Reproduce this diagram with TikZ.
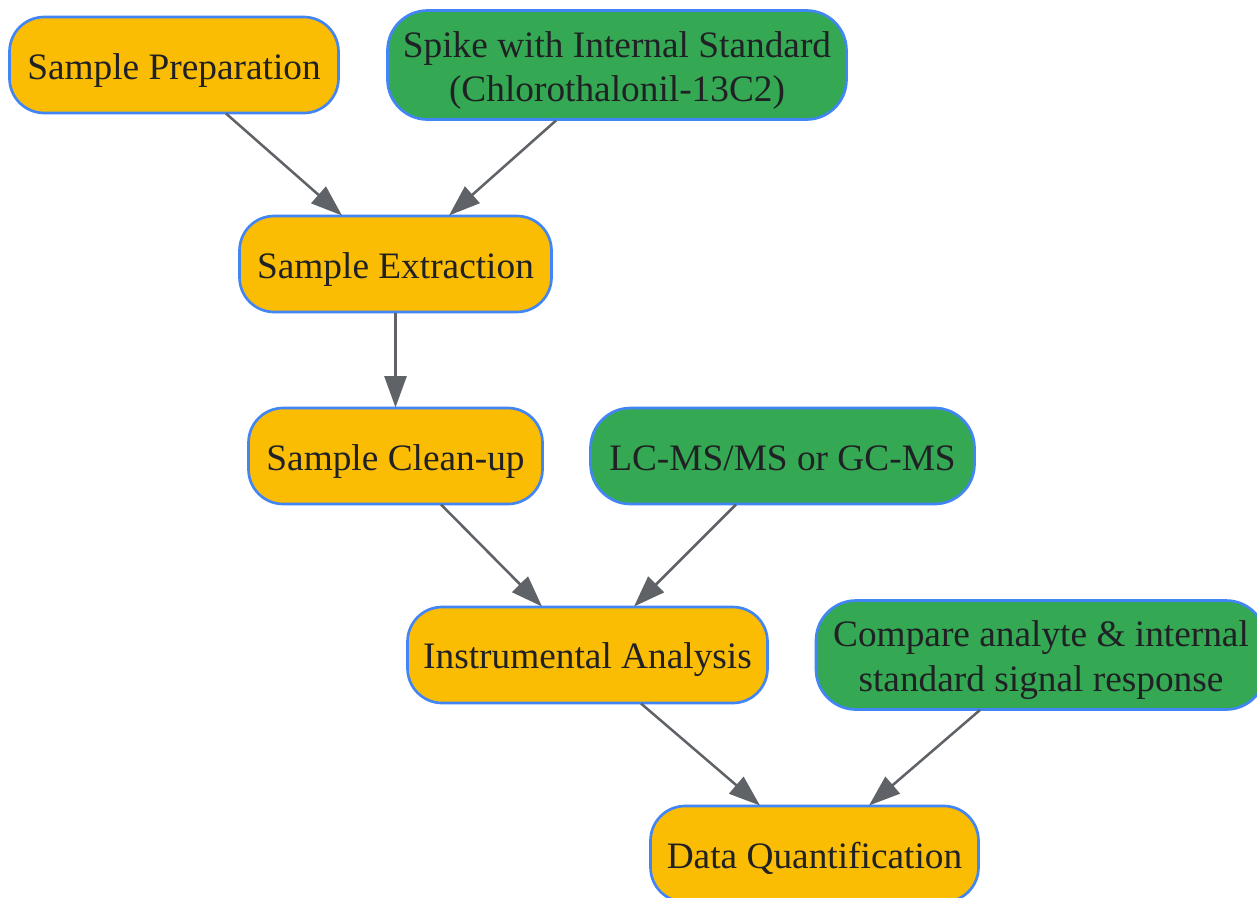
\documentclass[tikz,border=0pt]{standalone}
\usepackage{fontspec}
\setmainfont{Liberation Serif}
\usetikzlibrary{arrows.meta}
\definecolor{amber}{HTML}{FBBC04}
\definecolor{grn}{HTML}{34A853}
\definecolor{edgeb}{HTML}{4285F4}
\definecolor{ink}{HTML}{202124}
\definecolor{conn}{HTML}{5F6368}
\newcommand{\tst}{\rule[-6pt]{0pt}{33pt}}
\tikzset{x=0.75pt,y=-0.75pt,
 box/.style={draw=edgeb,line width=2pt,text=ink,font=\fontsize{28pt}{33pt}\selectfont,align=center,inner sep=0pt,anchor=center},
 prep/.style={box,fill=amber,rounded corners=26pt},
 ref/.style={box,fill=grn,rounded corners=30pt},
 link/.style={draw=conn,line width=1.9pt,-{Triangle[length=23.5pt,width=16.5pt]}}}
\newcommand{\boxnode}[6]{\node[#1,minimum width=#4*0.75pt,minimum height=#5*0.75pt] (#2) at (#3) {#6};}
\begin{document}
\begin{tikzpicture}
\useasboundingbox (0,0) rectangle (1257,897);
\boxnode{prep}{a}{174,65}{329}{96}{\tst Sample Preparation}
\boxnode{ref}{b}{617,65}{459}{109}{\tst Spike with Internal Standard\\\tst (Chlorothalonil-13C2)}
\boxnode{prep}{c}{395.5,264}{312}{96}{\tst Sample Extraction}
\boxnode{prep}{d}{395.5,456}{294}{96}{\tst Sample Clean-up}
\boxnode{ref}{e}{782.5,456}{384}{96}{\tst LC-MS/MS or GC-MS}
\boxnode{prep}{f}{587.5,655}{360}{96}{\tst Instrumental Analysis}
\boxnode{ref}{g}{1041,655}{450}{109}{\tst Compare analyte \& internal\\\tst standard signal response}
\boxnode{prep}{h}{814.5,854}{328}{96}{\tst Data Quantification}
\coordinate (ab) at (226,113.5); \coordinate (ca) at (342,215.5);
\coordinate (bb) at (556,120.5); \coordinate (cb) at (449,215.5);
\coordinate (cd) at (395.5,312.5); \coordinate (dc) at (395.5,407.5);
\coordinate (df) at (441,504.5); \coordinate (fd) at (542,606.5);
\coordinate (ef) at (736,504.5); \coordinate (fe) at (634,606.5);
\coordinate (fh) at (641,703.5); \coordinate (hf) at (760,805.5);
\coordinate (gh) at (980,710); \coordinate (hg) at (869,805.5);
\draw[link] (ab) -- (ca);
\draw[link] (bb) -- (cb);
\draw[link] (cd) -- (dc);
\draw[link] (df) -- (fd);
\draw[link] (ef) -- (fe);
\draw[link] (fh) -- (hf);
\draw[link] (gh) -- (hg);
\end{tikzpicture}
\end{document}
